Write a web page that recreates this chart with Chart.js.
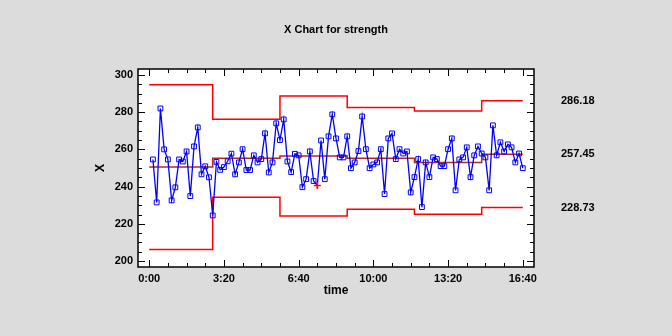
<!DOCTYPE html>
<html>
<head>
<meta charset="utf-8">
<title>X Chart for strength</title>
<script src="https://cdn.jsdelivr.net/npm/chart.js@4.4.1/dist/chart.umd.min.js"></script>
<style>
  html, body { margin: 0; padding: 0; background: #dcdcdc; overflow: hidden; }
  canvas { display: block; }
</style>
</head>
<body>
<canvas id="xchart" width="672" height="336"></canvas>
<script>
// samples taken every 10 s
const sampleInterval = 10
const strength = [
  254.6, 231.5, 282.0, 260.0, 254.6, 232.6, 239.6, 254.6, 253.5, 258.9,
  234.9, 261.6, 271.8, 246.6, 250.9, 245.0, 224.5, 253.3, 249.0, 250.5,
  253.6, 257.7, 246.6, 253.0, 260.1, 248.9, 248.9, 256.8, 253.0, 254.8,
  268.6, 247.6, 253.0, 274.0, 265.0, 276.1, 253.5, 247.8, 257.6, 256.8,
  239.7, 244.0, 258.9, 243.0, 240.6, 264.8, 244.0, 267.0, 278.8, 265.9,
  255.7, 255.7, 267.0, 249.9, 253.0, 259.1, 277.7, 260.1, 249.9, 251.9,
  253.0, 260.1, 236.0, 265.9, 268.6, 254.8, 260.1, 257.8, 258.9, 236.9,
  245.1, 254.8, 229.0, 253.0, 245.1, 255.7, 254.8, 251.0, 251.0, 260.1,
  265.9, 238.0, 254.6, 255.7, 261.1, 245.1, 256.8, 261.6, 257.8, 255.7,
  238.0, 272.9, 256.8, 263.8, 258.9, 262.7, 261.1, 253.0, 257.8, 249.9
]
// samples flagged by the run rules (1-based)
const flaggedSamples = [45]

// control limits, one entry per phase; phase i runs up to phaseEnds[i]
const phaseStarts = [0, 170, 350, 530, 710, 890]
const phaseEnds = [170, 350, 530, 710, 890, 1000]
const ucl = [294.8, 276.2, 288.7, 282.5, 280.6, 286.18]
const centerLine = [250.5, 255.3, 256.4, 255.2, 252.9, 257.45]
const lcl = [206.2, 234.3, 224.2, 227.8, 225.2, 228.73]

const timeTicks = [0, 200, 400, 600, 800, 1000]
const valueTicks = [200, 220, 240, 260, 280, 300]
const limitTicks = [lcl[lcl.length - 1], centerLine[centerLine.length - 1], ucl[ucl.length - 1]]

const points = strength.map((v, i) => ({ x: (i + 1) * sampleInterval, y: v }))

function stepLine (limits) {
  const d = limits.map((v, i) => ({ x: phaseStarts[i], y: v }))
  d.push({ x: phaseEnds[phaseEnds.length - 1], y: limits[limits.length - 1] })
  return d
}

function fmtTime (v) {
  const m = Math.floor(v / 60)
  const s = Math.round(v % 60)
  return m + ':' + (s < 10 ? '0' : '') + s
}

const isFlagged = ctx => flaggedSamples.includes(ctx.dataIndex + 1)

const tickFont = { family: 'Arial, "Liberation Sans", sans-serif', size: 11, weight: 'bold' }
const titleFont = { family: 'Arial, "Liberation Sans", sans-serif', size: 12, weight: 'bold' }

// white plot area, frame and inward tick marks on all four sides
const frameAndTicks = {
  id: 'frameAndTicks',
  beforeDraw (chart) {
    const { ctx, chartArea: a } = chart
    ctx.save()
    ctx.fillStyle = '#dcdcdc'
    ctx.fillRect(0, 0, chart.width, chart.height)
    ctx.fillStyle = '#ffffff'
    ctx.fillRect(a.left, a.top, a.right - a.left, a.bottom - a.top)
    ctx.restore()
  },
  afterDraw (chart) {
    const { ctx, chartArea: a, scales } = chart
    ctx.save()
    ctx.strokeStyle = '#000000'
    ctx.lineWidth = 1
    ctx.beginPath()
    for (let t = timeTicks[0]; t <= timeTicks[timeTicks.length - 1]; t += 50) {
      const x = Math.round(scales.x.getPixelForValue(t)) + 0.5
      const len = t % 200 === 0 ? 7 : 4
      ctx.moveTo(x, a.bottom)
      ctx.lineTo(x, a.bottom - len)
      ctx.moveTo(x, a.top)
      ctx.lineTo(x, a.top + len)
    }
    for (let v = valueTicks[0]; v <= valueTicks[valueTicks.length - 1]; v += 5) {
      const y = Math.round(scales.y.getPixelForValue(v)) + 0.5
      const len = v % 20 === 0 ? 7 : 4
      ctx.moveTo(a.left, y)
      ctx.lineTo(a.left + len, y)
      ctx.moveTo(a.right, y)
      ctx.lineTo(a.right - len, y)
    }
    ctx.stroke()
    ctx.lineWidth = 1.5
    ctx.strokeRect(a.left, a.top, a.right - a.left, a.bottom - a.top)
    ctx.restore()
  }
}

new Chart(document.getElementById('xchart'), {
  type: 'line',
  data: {
    datasets: [
      {
        label: 'strength',
        data: points,
        borderColor: '#0000ff',
        borderWidth: 1.3,
        pointStyle: ctx => isFlagged(ctx) ? 'cross' : 'rect',
        pointRadius: ctx => isFlagged(ctx) ? 3.5 : 3.4,
        pointBorderColor: ctx => isFlagged(ctx) ? '#ff0000' : '#0000ff',
        pointBorderWidth: ctx => isFlagged(ctx) ? 1.6 : 1,
        pointBackgroundColor: 'rgba(0,0,0,0)',
        tension: 0
      },
      {
        label: 'CL',
        data: stepLine(centerLine),
        stepped: true,
        borderColor: '#b02a2a',
        borderWidth: 1.5,
        pointRadius: 0
      },
      {
        label: 'UCL',
        data: stepLine(ucl),
        stepped: true,
        borderColor: '#ff0000',
        borderWidth: 1.5,
        pointRadius: 0
      },
      {
        label: 'LCL',
        data: stepLine(lcl),
        stepped: true,
        borderColor: '#ff0000',
        borderWidth: 1.5,
        pointRadius: 0
      }
    ]
  },
  options: {
    responsive: false,
    animation: false,
    devicePixelRatio: 1,
    layout: { padding: 0 },
    plugins: {
      legend: { display: false },
      tooltip: { enabled: false },
      title: {
        display: true,
        text: 'X Chart for strength',
        color: '#000000',
        font: { family: 'Arial, "Liberation Sans", sans-serif', size: 11, weight: 'bold' },
        padding: { top: 23.4, bottom: 32.4 }
      }
    },
    scales: {
      x: {
        type: 'linear',
        position: 'bottom',
        min: -30,
        max: 1030,
        afterBuildTicks: s => { s.ticks = timeTicks.map(v => ({ value: v })) },
        afterFit: s => { s.height = 69 },
        grid: { display: false, drawTicks: false },
        border: { display: false },
        ticks: { color: '#000000', font: tickFont, padding: 5, maxRotation: 0, callback: v => fmtTime(v) },
        title: { display: true, text: 'time', color: '#000000', font: titleFont, padding: { top: 0, bottom: 37.8 } }
      },
      y: {
        position: 'left',
        min: 196.8,
        max: 303.2,
        afterBuildTicks: s => { s.ticks = valueTicks.map(v => ({ value: v })) },
        afterFit: s => { s.width = 138 },
        grid: { display: false, drawTicks: false },
        border: { display: false },
        ticks: { color: '#000000', font: tickFont, padding: 5 },
        title: { display: true, text: 'X', color: '#000000', font: titleFont, padding: { top: 93, bottom: 0 } }
      },
      y2: {
        position: 'right',
        min: 196.8,
        max: 303.2,
        afterBuildTicks: s => { s.ticks = limitTicks.map(v => ({ value: v })) },
        afterFit: s => { s.width = 138 },
        grid: { display: false, drawTicks: false },
        border: { display: false },
        ticks: { color: '#000000', font: tickFont, padding: 27, callback: v => v.toFixed(2) }
      }
    }
  },
  plugins: [frameAndTicks]
})
</script>
</body>
</html>
